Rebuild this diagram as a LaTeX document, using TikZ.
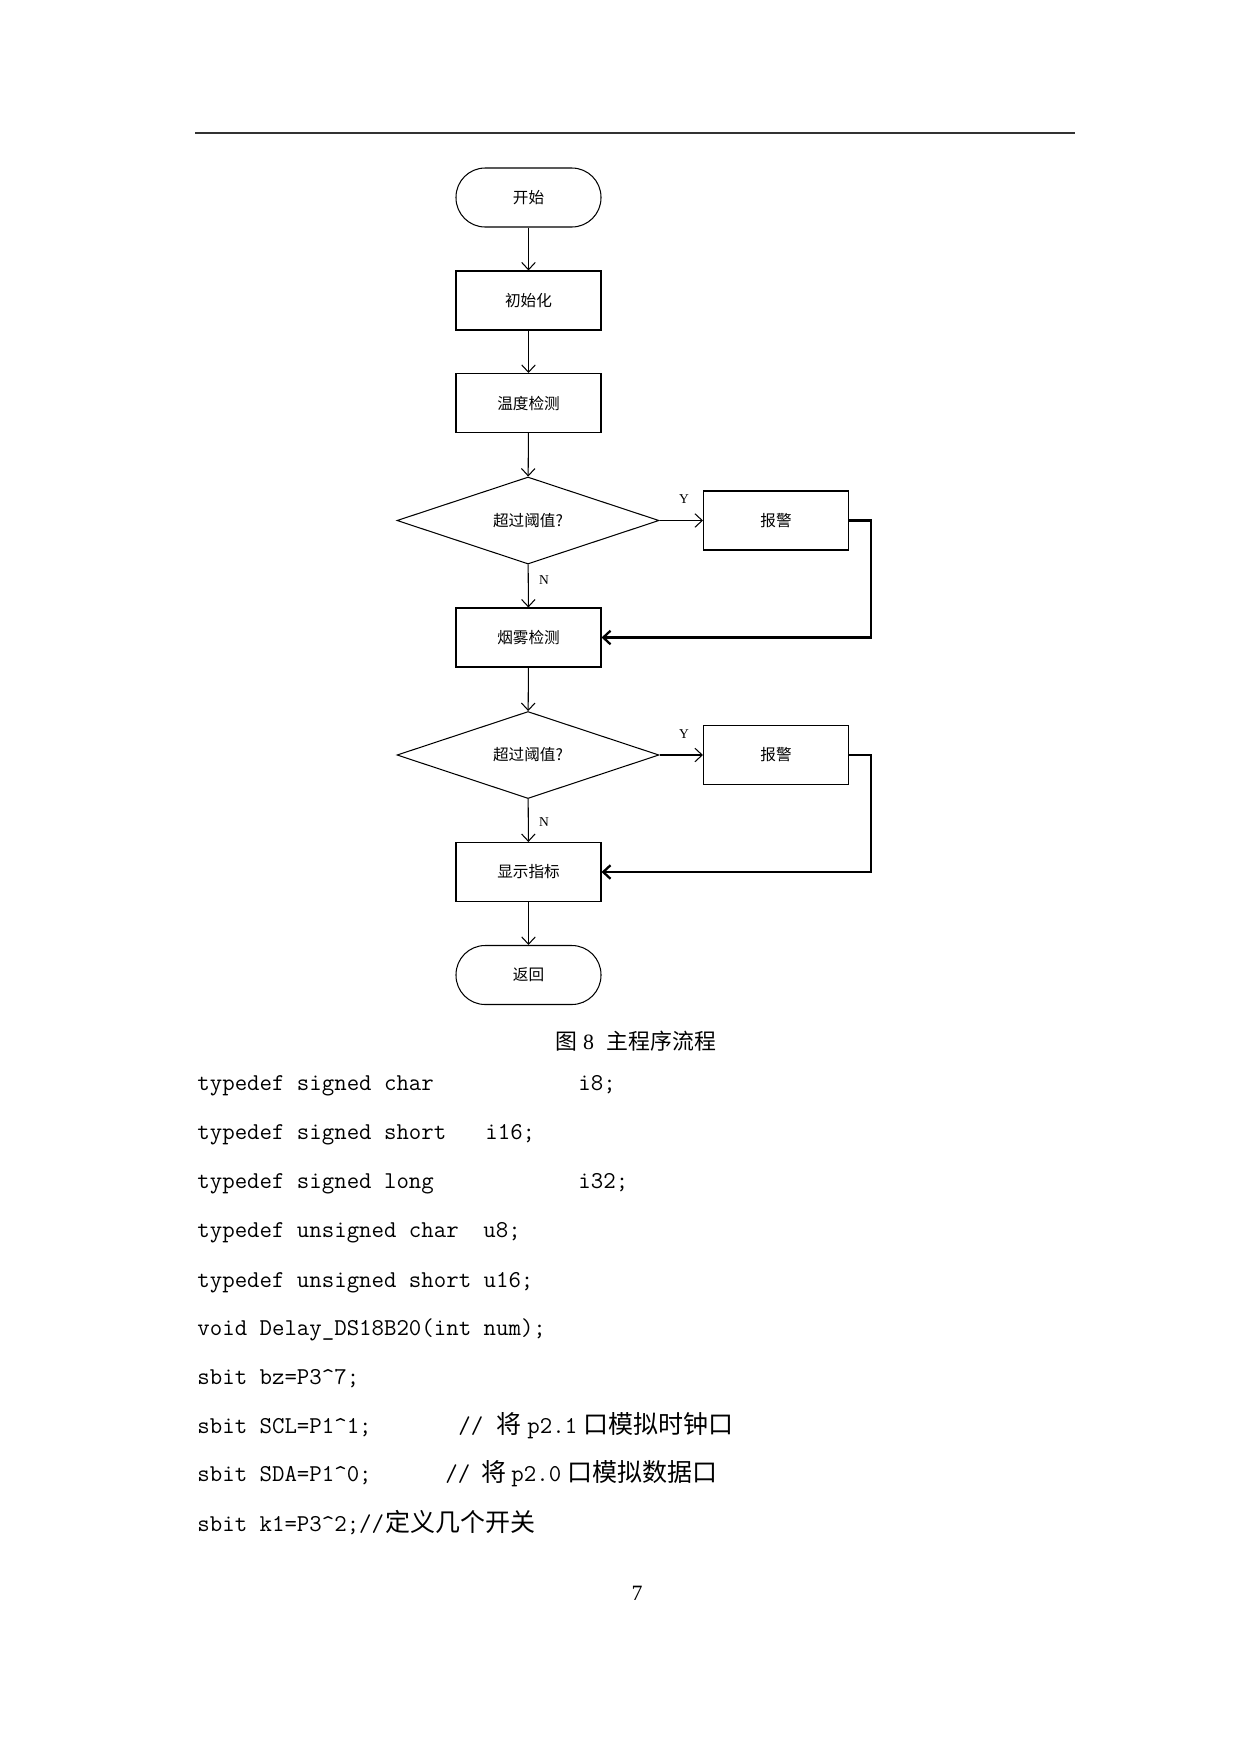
\documentclass[tikz,border=0pt]{standalone}
\usepackage{fontspec}
\setmainfont{Liberation Serif}
\newfontfamily\cjk{Noto Sans CJK SC}
\newfontfamily\lmmono{Latin Modern Mono}
\usetikzlibrary{shapes.geometric,arrows.meta}
\def\px{0.48pt}
\begin{document}
\begin{tikzpicture}[x=0.48pt,y=-0.48pt,
  box/.style={draw,line width=0.5pt,minimum width=145*\px,minimum height=59*\px,inner sep=0pt,font=\cjk\fontsize{7.5}{9}\selectfont},
  term/.style={box,rounded corners=14pt},
  dec/.style={draw,diamond,line width=0.5pt,minimum width=262*\px,minimum height=87*\px,inner sep=0pt,font=\cjk\fontsize{7.5}{9}\selectfont},
  flow/.style={line width=0.5pt,-{Straight Barb[length=3.5pt,width=6.5pt]}},
  fb/.style={line width=1.1pt,-{Straight Barb[length=3.5pt,width=6.5pt]}},
  yn/.style={inner sep=0pt,font=\fontsize{6.5}{8}\selectfont},
  code/.style={anchor=base west,inner sep=0pt,font=\lmmono\fontsize{11.6}{13}\selectfont},
  ccode/.style={anchor=base west,inner sep=0pt,font=\cjk\fontsize{12}{14}\selectfont}]
\fill[white] (0,0) rectangle (1240,1754);
\useasboundingbox (0,0) rectangle (1240,1754);
% header rule
\coordinate (hl) at (195,133);
\coordinate (hr) at (1075,133);
\draw[line width=0.8pt,black!80] (hl) -- (hr);
% flowchart
\node[term] (start) at (528.5,197.5) {开始};
\node[box] (init) at (528.5,300.5) {初始化};
\node[box] (temp) at (528.5,403) {温度检测};
\node[dec] (d1) at (528,520.5) {超过阈值?};
\node[box] (alarm1) at (776,520.5) {报警};
\node[box] (smoke) at (528.5,637.5) {烟雾检测};
\node[dec] (d2) at (528,755) {超过阈值?};
\node[box] (alarm2) at (776,755) {报警};
\node[box] (disp) at (528.5,872) {显示指标};
\node[term] (ret) at (528.5,975) {返回};
\coordinate (c1) at (871,520.5);
\coordinate (c2) at (871,755);
\draw[flow] (start) -- (init);
\draw[flow] (init) -- (temp);
\draw[flow] (temp) -- (d1);
\draw[flow] (d1) -- (smoke);
\draw[flow] (d1) -- (alarm1);
\draw[flow] (smoke) -- (d2);
\draw[flow] (d2) -- (disp);
\draw[flow] (d2) -- (alarm2);
\draw[flow] (disp) -- (ret);
\draw[fb] (alarm1.east) -- (c1) |- (smoke.east);
\draw[fb] (alarm2.east) -- (c2) |- (disp.east);
\node[yn] (y1) at (684,499) {Y};
\node[yn] (n1) at (544,580) {N};
\node[yn] (y2) at (684,734) {Y};
\node[yn] (n2) at (544,822) {N};
% caption
\node[inner sep=0pt,font=\cjk\fontsize{10.5}{12}\selectfont] (cap) at (636,1041) {图\hspace{2.6pt}{\rmfamily 8}\hspace{6.2pt}主程序流程};
% code lines
\node[code] (l1a) at (197,1090) {typedef signed char};
\node[code] (l1b) at (578,1090) {i8;};
\node[code] (l2a) at (197,1139) {typedef signed short};
\node[code] (l2b) at (485,1139) {i16;};
\node[code] (l3a) at (197,1188) {typedef signed long};
\node[code] (l3b) at (578,1188) {i32;};
\node[code] (l4a) at (197,1237) {typedef unsigned char};
\node[code] (l4b) at (483,1237) {u8;};
\node[code] (l5) at (197,1287) {typedef unsigned short u16;};
\node[code] (l6) at (197,1335) {void Delay\_DS18B20(int num);};
\node[code] (l7) at (197,1384) {sbit bz=P3\textasciicircum 7;};
\node[code] (l8a) at (197,1433) {sbit SCL=P1\textasciicircum 1;};
\node[code] (l8b) at (458,1433) {//};
\node[ccode] (l8c) at (496,1433) {将};
\node[code] (l8d) at (527,1433) {p2.1};
\node[ccode] (l8e) at (583,1433) {口模拟时钟口};
\node[code] (l9a) at (197,1481) {sbit SDA=P1\textasciicircum 0;};
\node[code] (l9b) at (445,1481) {//};
\node[ccode] (l9c) at (481,1481) {将};
\node[code] (l9d) at (511,1481) {p2.0};
\node[ccode] (l9e) at (567,1481) {口模拟数据口};
\node[code] (l10a) at (197,1531) {sbit k1=P3\textasciicircum 2;//};
\node[ccode] (l10b) at (385,1531) {定义几个开关};
% page number
\node[inner sep=0pt,font=\fontsize{10.5}{12}\selectfont] (pg) at (637,1593) {7};
\end{tikzpicture}
\end{document}
